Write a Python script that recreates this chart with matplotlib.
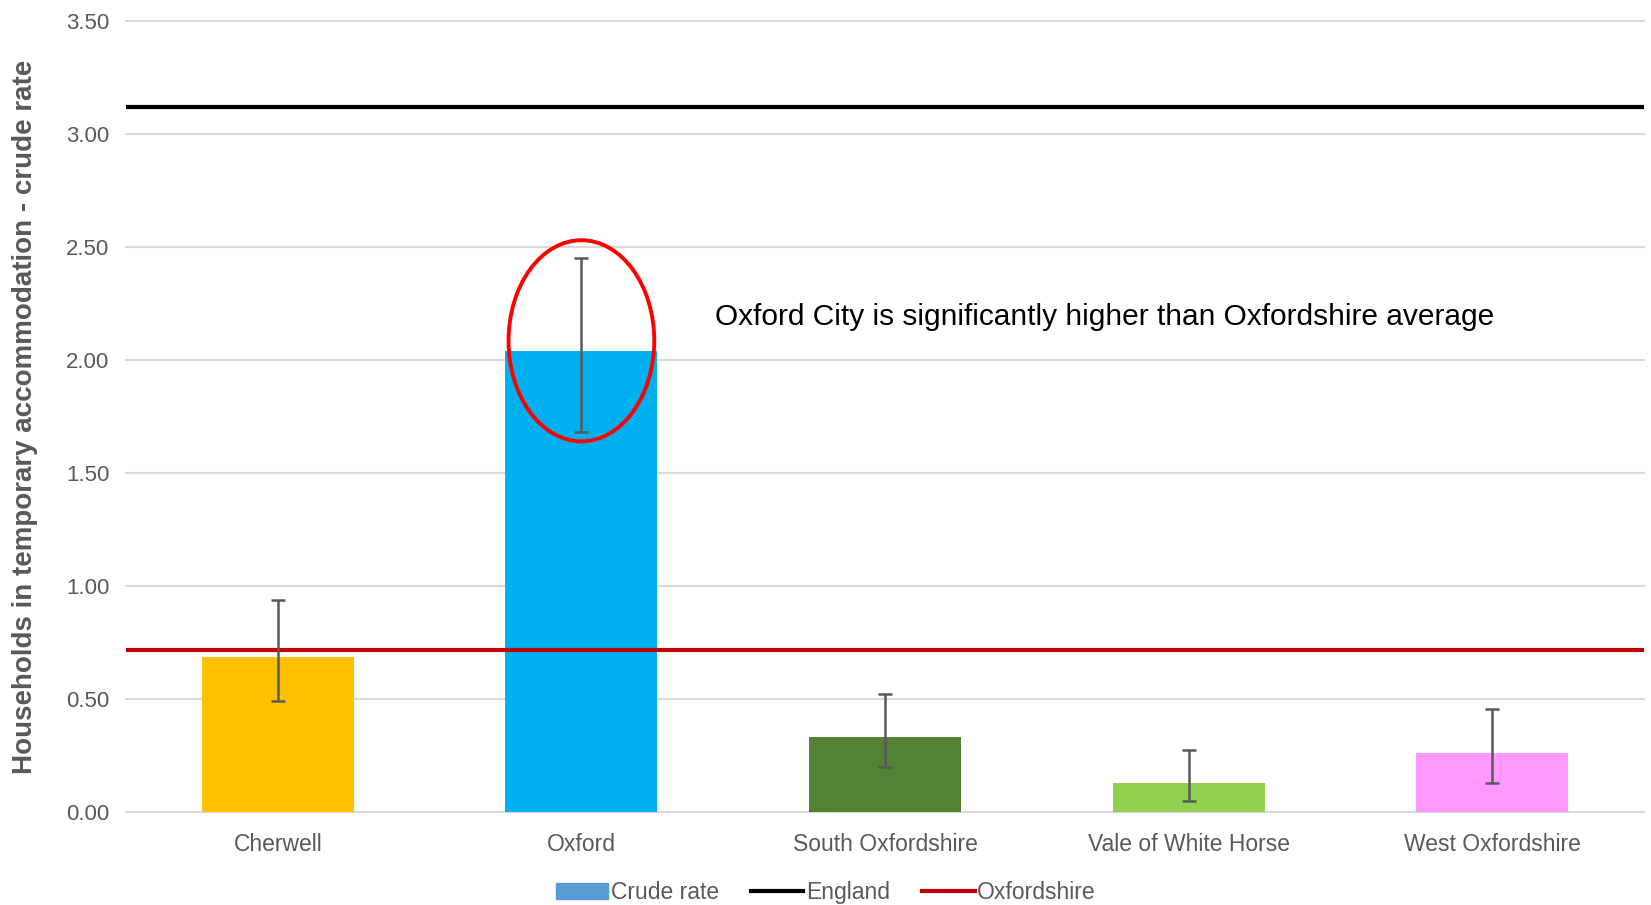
import matplotlib.pyplot as plt
from matplotlib.patches import Ellipse, Patch
from matplotlib.lines import Line2D

plt.rcParams['font.family'] = ['Liberation Sans', 'DejaVu Sans']

# --> Data
areas = ['Cherwell', 'Oxford', 'South Oxfordshire', 'Vale of White Horse', 'West Oxfordshire']
crude_rate = [0.685, 2.04, 0.33, 0.13, 0.26]
ci_lower = [0.49, 1.68, 0.20, 0.05, 0.13]
ci_upper = [0.94, 2.45, 0.52, 0.275, 0.455]
england = 3.12
oxfordshire = 0.715
bar_colors = ['#FFC000', '#00B0F0', '#548235', '#92D050', '#FF99FF']
yticks = [0.0, 0.5, 1.0, 1.5, 2.0, 2.5, 3.0, 3.5]

fig = plt.figure(figsize=(16.51, 9.05), dpi=100)
ax = fig.add_axes([0.0763, 0.1028, 0.9195, 0.874])

x = list(range(len(areas)))
err_low = [v - lo for v, lo in zip(crude_rate, ci_lower)]
err_high = [hi - v for v, hi in zip(crude_rate, ci_upper)]

ax.bar(x, crude_rate, width=0.5, color=bar_colors, zorder=2)
ax.errorbar(x, crude_rate, yerr=[err_low, err_high], fmt='none', ecolor='#595959',
            elinewidth=1.8, capsize=5, capthick=1.8, zorder=4)

ax.axhline(england, color='black', lw=3, zorder=3)
ax.axhline(oxfordshire, color='#C00000', lw=3, zorder=3)

# --> Highlight Oxford
ax.add_patch(Ellipse((1, 2.085), 0.48, 0.89, fill=False, edgecolor='#FF0000', lw=2.8, zorder=5))
ax.text(1.44, 2.19, 'Oxford City is significantly higher than Oxfordshire average',
        fontsize=21.5, color='black', va='center', ha='left')

# --> Axes styling
ax.set_xlim(-0.5, 4.5)
ax.set_ylim(0, 3.5)
ax.set_yticks(yticks)
ax.set_yticklabels(['%.2f' % t for t in yticks], fontsize=16, color='#595959')
ax.set_xticks(x)
ax.set_xticklabels(areas, fontsize=16.5, color='#595959')
ax.tick_params(length=0, pad=12)
ax.tick_params(axis='x', pad=15)
ax.grid(axis='y', color='#D9D9D9', lw=1.5, zorder=0)
ax.set_axisbelow(True)
for s in ax.spines.values():
    s.set_visible(False)
for gl in ax.get_ygridlines():
    gl.set_clip_on(False)

ax.set_ylabel('Households in temporary accommodation - crude rate', fontsize=20,
              fontweight='bold', color='#595959')
ax.yaxis.set_label_coords(-0.058, 0.5)

handles = [Patch(color='#5B9BD5', label='Crude rate'),
           Line2D([], [], color='black', lw=3, label='England'),
           Line2D([], [], color='#C00000', lw=3, label='Oxfordshire')]
fig.legend(handles=handles, loc='center', bbox_to_anchor=(0.5, 0.0135), ncol=3,
           frameon=False, fontsize=16.5, handlelength=2.3, handletextpad=0.1,
           columnspacing=1.4, labelcolor='#595959')

fig.savefig('out.png', dpi=100)
